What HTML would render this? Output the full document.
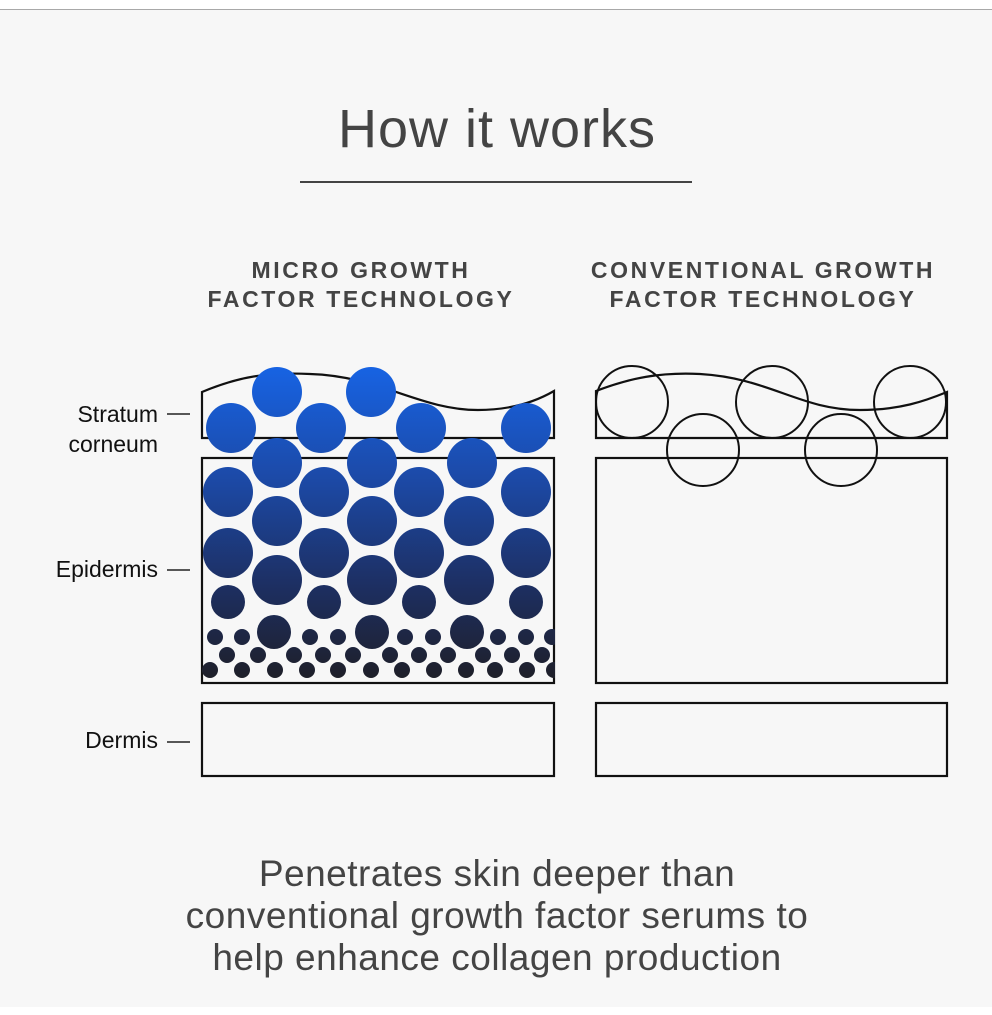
<!DOCTYPE html>
<html><head><meta charset="utf-8"><style>
html,body{margin:0;padding:0;}
body{width:992px;height:1015px;background:#fff;position:relative;overflow:hidden;font-family:"Liberation Sans",sans-serif;}
#bg{position:absolute;left:0;top:9px;width:992px;height:997px;background:#f7f7f7;border-top:1.5px solid #a8a8a8;}
.t{position:absolute;white-space:nowrap;}
</style></head><body>
<div id="bg"></div>
<div class="t" style="left:0;width:994px;text-align:center;top:98px;font-size:54px;letter-spacing:1px;color:#444;font-weight:300;">How it works</div>
<div style="position:absolute;left:300px;top:181px;width:392px;height:2px;background:#444;"></div>
<div class="t" style="left:180px;width:402px;margin-left:-20px;text-align:center;top:256px;font-size:23px;line-height:29px;letter-spacing:2.6px;color:#444;font-weight:bold;">MICRO GROWTH<br>FACTOR TECHNOLOGY</div>
<div class="t" style="left:562px;width:402px;text-align:center;top:256px;font-size:23px;line-height:29px;letter-spacing:2.6px;color:#444;font-weight:bold;">CONVENTIONAL GROWTH<br>FACTOR TECHNOLOGY</div>
<div class="t" style="left:40px;width:118px;text-align:right;top:399px;font-size:23px;line-height:30px;color:#111;">Stratum<br>corneum</div>
<div class="t" style="left:20px;width:138px;text-align:right;top:556px;font-size:23px;color:#111;">Epidermis</div>
<div class="t" style="left:20px;width:138px;text-align:right;top:727px;font-size:23px;color:#111;">Dermis</div>
<svg width="992" height="1015" style="position:absolute;left:0;top:0" xmlns="http://www.w3.org/2000/svg">
<defs>
<linearGradient id="g" gradientUnits="userSpaceOnUse" x1="0" y1="367" x2="0" y2="680">
<stop offset="0" stop-color="#1763e3"/><stop offset="0.35" stop-color="#1c4aa8"/><stop offset="0.7" stop-color="#1d2f62"/><stop offset="1" stop-color="#1e1f28"/></linearGradient>
<clipPath id="c"><rect x="200" y="350" width="355" height="340"/></clipPath>
</defs>
<g stroke="#222" stroke-width="1.5">
<line x1="167" y1="414" x2="190" y2="414"/><line x1="167" y1="570" x2="190" y2="570"/><line x1="167" y1="742" x2="190" y2="742"/>
</g>
<g fill="none" stroke="#111" stroke-width="2.2">
<path d="M202 438 L202 392 C240 376 270 372 310 374 C380 376 420 410 478 410 C510 410 535 402 554 391 L554 438 Z"/>
<rect x="202" y="458" width="352" height="225"/>
<rect x="202" y="703" width="352" height="73"/>
<path d="M596 438 L596 391 C630 378 660 372 700 374 C770 378 800 410 860 410 C900 410 925 401 947 392 L947 438 Z"/>
<rect x="596" y="458" width="351" height="225"/>
<rect x="596" y="703" width="351" height="73"/>
</g>
<g fill="url(#g)" clip-path="url(#c)">
<circle cx="277" cy="392" r="25"/><circle cx="371" cy="392" r="25"/>
<circle cx="231" cy="428" r="25"/><circle cx="321" cy="428" r="25"/><circle cx="421" cy="428" r="25"/><circle cx="526" cy="428" r="25"/>
<circle cx="277" cy="463" r="25"/><circle cx="372" cy="463" r="25"/><circle cx="472" cy="463" r="25"/>
<circle cx="228" cy="492" r="25"/><circle cx="324" cy="492" r="25"/><circle cx="419" cy="492" r="25"/><circle cx="526" cy="492" r="25"/>
<circle cx="277" cy="521" r="25"/><circle cx="372" cy="521" r="25"/><circle cx="469" cy="521" r="25"/>
<circle cx="228" cy="553" r="25"/><circle cx="324" cy="553" r="25"/><circle cx="419" cy="553" r="25"/><circle cx="526" cy="553" r="25"/>
<circle cx="277" cy="580" r="25"/><circle cx="372" cy="580" r="25"/><circle cx="469" cy="580" r="25"/>
<circle cx="228" cy="602" r="17"/><circle cx="324" cy="602" r="17"/><circle cx="419" cy="602" r="17"/><circle cx="526" cy="602" r="17"/>
<circle cx="274" cy="632" r="17"/><circle cx="372" cy="632" r="17"/><circle cx="467" cy="632" r="17"/>
<g>
<circle cx="215" cy="637" r="8"/><circle cx="242" cy="637" r="8"/><circle cx="310" cy="637" r="8"/><circle cx="338" cy="637" r="8"/><circle cx="405" cy="637" r="8"/><circle cx="433" cy="637" r="8"/><circle cx="498" cy="637" r="8"/><circle cx="526" cy="637" r="8"/><circle cx="552" cy="637" r="8"/>
<circle cx="227" cy="655" r="8"/><circle cx="258" cy="655" r="8"/><circle cx="294" cy="655" r="8"/><circle cx="323" cy="655" r="8"/><circle cx="353" cy="655" r="8"/><circle cx="390" cy="655" r="8"/><circle cx="419" cy="655" r="8"/><circle cx="448" cy="655" r="8"/><circle cx="483" cy="655" r="8"/><circle cx="512" cy="655" r="8"/><circle cx="542" cy="655" r="8"/>
<circle cx="210" cy="670" r="8"/><circle cx="242" cy="670" r="8"/><circle cx="275" cy="670" r="8"/><circle cx="307" cy="670" r="8"/><circle cx="338" cy="670" r="8"/><circle cx="371" cy="670" r="8"/><circle cx="402" cy="670" r="8"/><circle cx="434" cy="670" r="8"/><circle cx="466" cy="670" r="8"/><circle cx="495" cy="670" r="8"/><circle cx="527" cy="670" r="8"/><circle cx="554" cy="670" r="8"/>
</g>
</g>
<g fill="none" stroke="#111" stroke-width="2">
<circle cx="632" cy="402" r="36"/><circle cx="772" cy="402" r="36"/><circle cx="910" cy="402" r="36"/>
<circle cx="703" cy="450" r="36"/><circle cx="841" cy="450" r="36"/>
</g>
</svg>
<div class="t" style="left:0;width:994px;text-align:center;top:853px;font-size:37px;line-height:42px;letter-spacing:0.5px;color:#444;font-weight:300;">Penetrates skin deeper than<br>conventional growth factor serums to<br>help enhance collagen production</div>
</body></html>
